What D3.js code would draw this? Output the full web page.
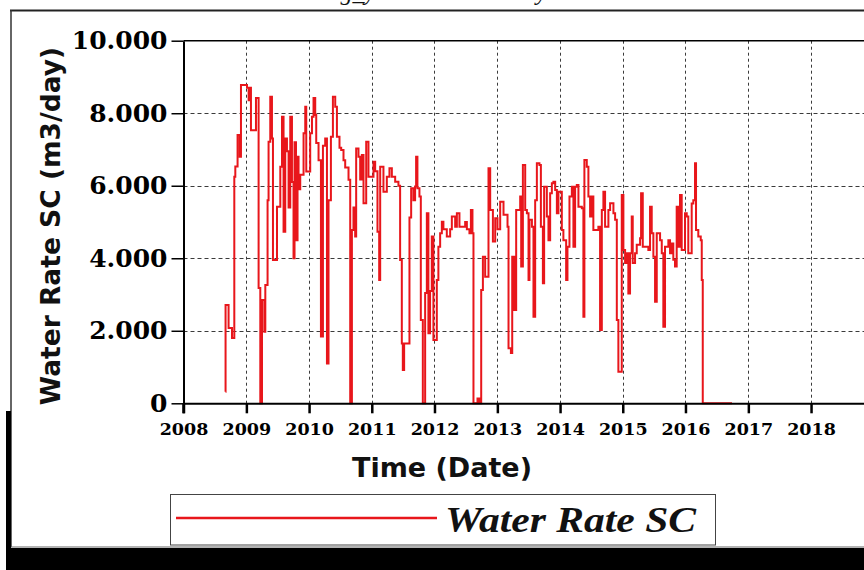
<!DOCTYPE html>
<html>
<head>
<meta charset="utf-8">
<script src="https://cdn.jsdelivr.net/npm/d3@7"></script>
<style>
  html, body { margin: 0; padding: 0; background: #fff; }
  svg { display: block; }
</style>
</head>
<body>
<svg id="chart" width="864" height="570"></svg>
<script>
// Water rate history of the well (decimal year, m3/day)
const yearPos = [
  2008.668,2008.669,2008.717,2008.771,2008.808,2008.824,2008.860,2008.893,2008.914,2009.010,
  2009.036,2009.063,2009.073,2009.153,2009.195,2009.222,2009.249,2009.286,2009.302,2009.338,
  2009.354,2009.381,2009.408,2009.424,2009.488,2009.541,2009.568,2009.593,2009.620,2009.647,
  2009.673,2009.700,2009.727,2009.752,2009.768,2009.791,2009.816,2009.832,2009.859,2009.912,
  2009.939,2009.955,2010.018,2010.046,2010.071,2010.098,2010.114,2010.151,2010.189,2010.221,
  2010.257,2010.285,2010.310,2010.348,2010.380,2010.417,2010.444,2010.485,2010.512,2010.549,
  2010.576,2010.629,2010.656,2010.683,2010.708,2010.735,2010.751,2010.788,2010.815,2010.842,
  2010.868,2010.911,2010.947,2011.027,2011.054,2011.091,2011.118,2011.134,2011.186,2011.240,
  2011.282,2011.320,2011.373,2011.425,2011.452,2011.479,2011.495,2011.516,2011.601,2011.628,
  2011.664,2011.691,2011.707,2011.728,2011.760,2011.782,2011.814,2011.851,2011.878,2011.903,
  2011.930,2011.957,2011.983,2012.037,2012.062,2012.090,2012.117,2012.142,2012.196,2012.249,
  2012.276,2012.329,2012.356,2012.397,2012.488,2012.515,2012.556,2012.579,2012.604,2012.620,
  2012.684,2012.716,2012.743,2012.770,2012.806,2012.859,2012.886,2012.929,2012.966,2013.002,
  2013.045,2013.098,2013.162,2013.178,2013.216,2013.237,2013.269,2013.300,2013.364,2013.380,
  2013.407,2013.444,2013.471,2013.497,2013.512,2013.551,2013.576,2013.603,2013.630,2013.671,
  2013.694,2013.726,2013.746,2013.789,2013.815,2013.842,2013.869,2013.894,2013.922,2013.949,
  2013.974,2014.028,2014.053,2014.097,2014.118,2014.150,2014.188,2014.213,2014.240,2014.267,
  2014.293,2014.347,2014.372,2014.388,2014.426,2014.452,2014.479,2014.506,2014.531,2014.611,
  2014.638,2014.666,2014.691,2014.718,2014.771,2014.798,2014.851,2014.878,2014.905,2014.930,
  2014.984,2015.010,2015.037,2015.064,2015.089,2015.116,2015.143,2015.159,2015.196,2015.223,
  2015.276,2015.292,2015.319,2015.408,2015.435,2015.462,2015.488,2015.515,2015.542,2015.595,
  2015.622,2015.647,2015.674,2015.727,2015.754,2015.781,2015.806,2015.833,2015.860,2015.886,
  2015.913,2015.940,2015.993,2016.020,2016.045,2016.099,2016.125,2016.152,2016.168,2016.204,
  2016.243,2016.259,2016.275,2016.740
];
const waterRate = [
  320,2710,2077,1800,6250,6530,7400,6800,8780,8700,
  8360,8700,7530,8420,3180,0,2850,1975,3260,5600,
  7215,8455,7300,3950,5420,6525,7900,4730,7300,6950,
  5400,7900,6100,4000,7200,4500,6800,5900,6300,7450,
  8180,6390,7450,7900,8420,7950,7180,6700,1840,7100,
  7300,1100,5600,7350,8455,8180,7350,7050,6985,6700,
  6500,6165,0,4780,5400,4600,7030,6800,6170,6850,
  5520,7215,6250,6665,6400,4730,3400,6525,5835,6250,
  6480,6250,6110,6000,3950,1650,920,1650,5125,5930,
  5600,5980,6800,5930,5700,2300,0,3040,5240,1930,
  3100,4600,1745,3400,4320,4690,5010,4800,4600,4800,
  5150,4870,5240,4870,5000,4800,4690,5330,4690,0,
  130,0,3125,4045,3490,6480,5330,4460,5100,4800,
  5560,5200,4870,1515,1390,4045,2570,5330,5700,3770,
  6575,5330,5240,3400,5060,4870,2390,5600,6620,6575,
  4870,3310,5975,5150,4500,5790,6070,6110,5880,5240,
  5835,4780,4500,3400,4320,5700,5975,4320,5975,6020,
  5420,5380,2390,6710,6525,5700,5150,5700,4780,4870,
  2020,5330,5835,4870,5330,5520,5240,5060,2300,870,
  5745,4230,3870,4140,3030,4140,5150,3870,4140,4370,
  4550,5790,4320,4230,5420,4690,4045,2800,4690,4500,
  4140,2110,4320,4500,4140,4410,3960,3770,5420,4320,
  5745,4230,5240,5150,4140,5510,5600,6620,4780,4600,
  4500,3400,0,0
];

// Axis ticks
const xTickYears = [2008, 2009, 2010, 2011, 2012, 2013, 2014, 2015, 2016, 2017, 2018];
const yTicks = [0, 2000, 4000, 6000, 8000, 10000];
const yTickLabels = ["0", "2.000", "4.000", "6.000", "8.000", "10.000"];

const seriesName = "Water Rate SC";
const lineColor = "#e8161b";

function decimalYearToDate(t) {
  const yr = Math.floor(t);
  const start = new Date(yr, 0, 1), end = new Date(yr + 1, 0, 1);
  return new Date(+start + (t - yr) * (end - start));
}

const data = yearPos.map((t, i) => ({ date: decimalYearToDate(t), value: waterRate[i] }));

const svg = d3.select("#chart");
const W = 864, H = 570;

// Plot geometry
const x0 = 183.5, xAt2018 = 811, yTop = 40.7, yBottom = 403.3;
const pxPerYear = (xAt2018 - x0) / 10;

const x = d3.scaleTime()
  .domain([new Date(2008, 0, 1), new Date(2019, 0, 1)])
  .range([x0, xAt2018 + pxPerYear]);
const y = d3.scaleLinear().domain([0, 10000]).range([yBottom, yTop]);

// Page frame
svg.append("rect").attr("x", 0).attr("y", 0).attr("width", W).attr("height", H).attr("fill", "#fff");
svg.append("line").attr("x1", 10).attr("x2", W).attr("y1", 10.5).attr("y2", 10.5)
  .attr("stroke", "#222").attr("stroke-width", 2);
svg.append("line").attr("x1", 11).attr("x2", 11).attr("y1", 10).attr("y2", 547)
  .attr("stroke", "#333").attr("stroke-width", 1.5);
svg.append("line").attr("x1", 11).attr("x2", W).attr("y1", 547).attr("y2", 547)
  .attr("stroke", "#666").attr("stroke-width", 1);
svg.append("rect").attr("x", 6).attr("y", 411).attr("width", 5).attr("height", H - 411).attr("fill", "#000");
svg.append("rect").attr("x", 6).attr("y", 548).attr("width", W - 6).attr("height", H - 548).attr("fill", "#000");

// Title line above the frame (only its lower part fits on the page)
svg.append("text")
  .attr("x", 547).attr("y", 0)
  .attr("text-anchor", "end")
  .attr("font-family", "Liberation Serif")
  .attr("font-style", "italic")
  .attr("font-size", 24)
  .attr("fill", "#111")
  .text("Producing_y Water Rate Daily");

// Grid
const grid = svg.append("g").attr("stroke", "#1a1a1a").attr("stroke-width", 1).attr("opacity", 0.85);
grid.selectAll("line.v")
  .data(xTickYears.slice(1).concat([2019]))
  .join("line")
  .attr("x1", d => Math.round(x(new Date(d, 0, 1))) + 0.5)
  .attr("x2", d => Math.round(x(new Date(d, 0, 1))) + 0.5)
  .attr("y1", yTop).attr("y2", yBottom)
  .attr("stroke-dasharray", "3,3");
grid.selectAll("line.h")
  .data(yTicks.filter(v => v > 0 && v < 10000))
  .join("line")
  .attr("x1", x0).attr("x2", W)
  .attr("y1", d => Math.round(y(d)) + 0.5)
  .attr("y2", d => Math.round(y(d)) + 0.5)
  .attr("stroke-dasharray", "4,3");

// Top border of the plot
svg.append("line").attr("x1", x0).attr("x2", W).attr("y1", yTop).attr("y2", yTop)
  .attr("stroke", "#000").attr("stroke-width", 1.5);

// Series
const line = d3.line()
  .x(d => x(d.date))
  .y(d => y(d.value))
  .curve(d3.curveStepAfter);
svg.append("path")
  .datum(data)
  .attr("fill", "none")
  .attr("stroke", lineColor)
  .attr("stroke-width", 2)
  .attr("stroke-linejoin", "miter")
  .attr("d", line);

// X axis
const xAxis = d3.axisBottom(x)
  .tickValues(xTickYears.map(yr => new Date(yr, 0, 1)))
  .tickFormat(d3.timeFormat("%Y"))
  .tickSize(10)
  .tickSizeOuter(0);
const gx = svg.append("g").attr("transform", `translate(0,${yBottom})`).call(xAxis);
gx.select(".domain").attr("stroke", "#000").attr("stroke-width", 2);
gx.selectAll(".tick line").attr("stroke", "#000").attr("stroke-width", 2.5);
gx.selectAll(".tick text")
  .attr("y", 32).attr("dy", null)
  .attr("font-family", "DejaVu Serif").attr("font-weight", "bold")
  .attr("font-size", 17.5).attr("fill", "#000");

// Y axis
const yAxis = d3.axisLeft(y)
  .tickValues(yTicks)
  .tickFormat((d, i) => yTickLabels[i])
  .tickSize(12)
  .tickSizeOuter(0)
  .tickPadding(4);
const gy = svg.append("g").attr("transform", `translate(${x0},0)`).call(yAxis);
gy.select(".domain").attr("stroke", "#000").attr("stroke-width", 2);
gy.selectAll(".tick line").attr("stroke", "#000").attr("stroke-width", 1.5);
gy.selectAll(".tick text")
  .attr("font-family", "DejaVu Serif").attr("font-weight", "bold")
  .attr("font-size", 25).attr("fill", "#000");
// y axis runs down past the baseline like the year ticks
svg.append("line").attr("x1", x0).attr("x2", x0).attr("y1", yBottom).attr("y2", yBottom + 10)
  .attr("stroke", "#000").attr("stroke-width", 2.5);

// Axis titles
svg.append("text")
  .attr("transform", "translate(60,226) rotate(-90)")
  .attr("text-anchor", "middle")
  .attr("font-family", "DejaVu Sans").attr("font-weight", "bold")
  .attr("font-size", 26.5).attr("fill", "#111")
  .text("Water Rate SC (m3/day)");
svg.append("text")
  .attr("x", 442).attr("y", 477)
  .attr("text-anchor", "middle")
  .attr("font-family", "DejaVu Sans").attr("font-weight", "bold")
  .attr("font-size", 27).attr("fill", "#111")
  .text("Time (Date)");

// Legend
const lg = svg.append("g");
lg.append("rect").attr("x", 170.5).attr("y", 494.5).attr("width", 545).attr("height", 50.5)
  .attr("fill", "#fff").attr("stroke", "#444").attr("stroke-width", 1);
lg.append("line").attr("x1", 176).attr("x2", 437).attr("y1", 518).attr("y2", 518)
  .attr("stroke", lineColor).attr("stroke-width", 2.5);
lg.append("text")
  .attr("x", 445).attr("y", 532)
  .attr("font-family", "Liberation Serif").attr("font-weight", "bold").attr("font-style", "italic")
  .attr("font-size", 36).attr("fill", "#111")
  .attr("textLength", 251).attr("lengthAdjust", "spacingAndGlyphs")
  .text(seriesName);
</script>
</body>
</html>
